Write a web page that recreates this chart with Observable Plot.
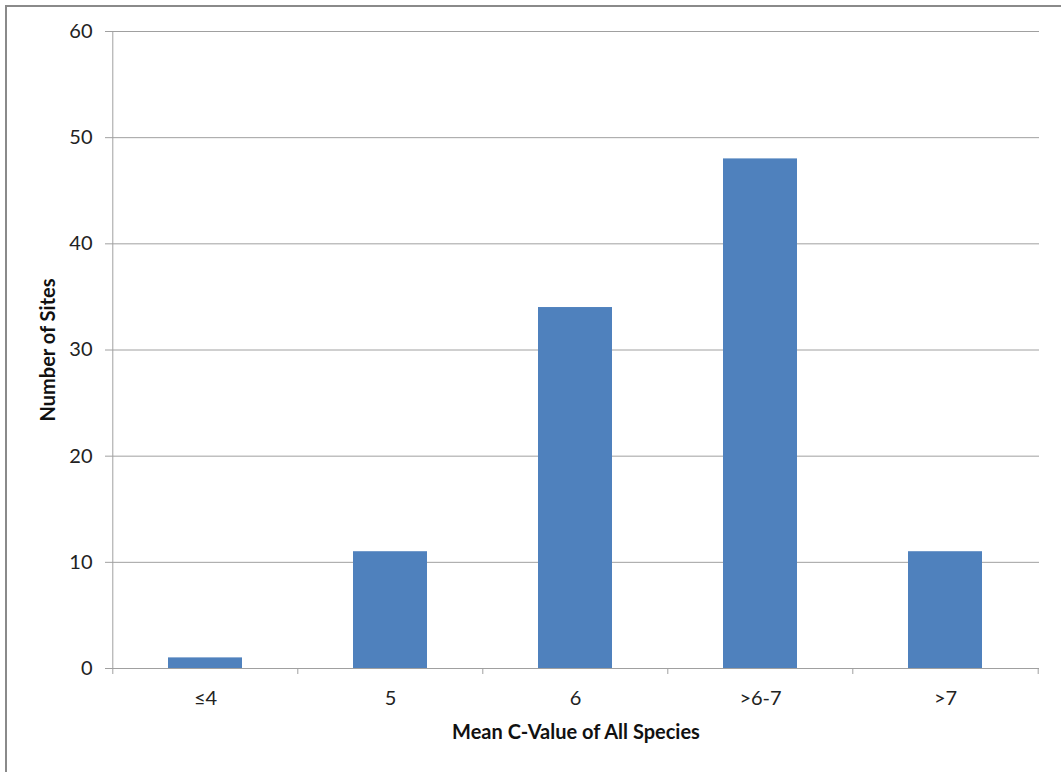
<!DOCTYPE html>
<html>
<head>
<meta charset="utf-8">
<script src="https://cdn.jsdelivr.net/npm/d3@7"></script>
<script src="https://cdn.jsdelivr.net/npm/@observablehq/plot@0.6"></script>
<style>
  html, body { margin: 0; padding: 0; background: #fff; overflow: hidden; }
  #wrap { position: relative; width: 1061px; height: 772px; }
  #border { position: absolute; left: 5px; top: 5px; width: 1100px; height: 800px; border: 2px solid #8a8a8a; box-sizing: border-box; }
  #chart { position: absolute; left: 0; top: 0; }
</style>
</head>
<body>
<div id="wrap"><div id="border"></div><div id="chart"></div></div>
<script>
const categories = ["≤4", "5", "6", ">6-7", ">7"];
const values = [1, 11, 34, 48, 11];
const yTicks = [0, 10, 20, 30, 40, 50, 60];
const xTitle = "Mean C-Value of All Species";
const yTitle = "Number of Sites";

const data = categories.map((c, i) => ({category: c, value: values[i]}));

const W = 1061, H = 772;
const mL = 112, mR = 22, mT = 31, mB = 104;
const bw = (W - mL - mR) / categories.length;
const font = "Lato, 'Open Sans', sans-serif";
const gray = "#a0a0a0";

const plot = Plot.plot({
  width: W,
  height: H,
  marginLeft: mL,
  marginRight: mR,
  marginTop: mT,
  marginBottom: mB,
  style: {fontFamily: font, fontSize: "20px", color: "#222", background: "transparent"},
  x: {domain: categories, paddingInner: 0.6, paddingOuter: 0.3, label: null},
  y: {domain: [0, 60], label: null},
  marks: [
    Plot.gridY(yTicks, {stroke: gray, strokeOpacity: 1}),
    Plot.barY(data, {x: "category", y: "value", fill: "#4f81bd"}),
    Plot.ruleY([0], {stroke: gray}),
    Plot.ruleX([categories[0]], {dx: -bw / 2, stroke: gray}),
    Plot.ruleX(categories, {x: d => d, y1: 0, y2: 0, dx: -bw / 2, insetBottom: -6, stroke: gray}),
    Plot.ruleX([categories[categories.length - 1]], {y1: 0, y2: 0, dx: bw / 2, insetBottom: -6, stroke: gray}),
    Plot.axisY({ticks: yTicks, tickSize: 7, tickPadding: 13, stroke: gray, fontSize: 20, label: null}),
    Plot.axisX({tickSize: 0, tickPadding: 22, fontSize: 20, label: null}),
    Plot.text([xTitle], {frameAnchor: "bottom", dy: 64, lineAnchor: "middle", fontWeight: "bold", fontSize: 20, fill: "#111"}),
    Plot.text([yTitle], {frameAnchor: "left", dx: -64, rotate: -90, textAnchor: "middle", fontWeight: "bold", fontSize: 20, fill: "#111"})
  ]
});
document.getElementById("chart").appendChild(plot);
</script>
</body>
</html>
